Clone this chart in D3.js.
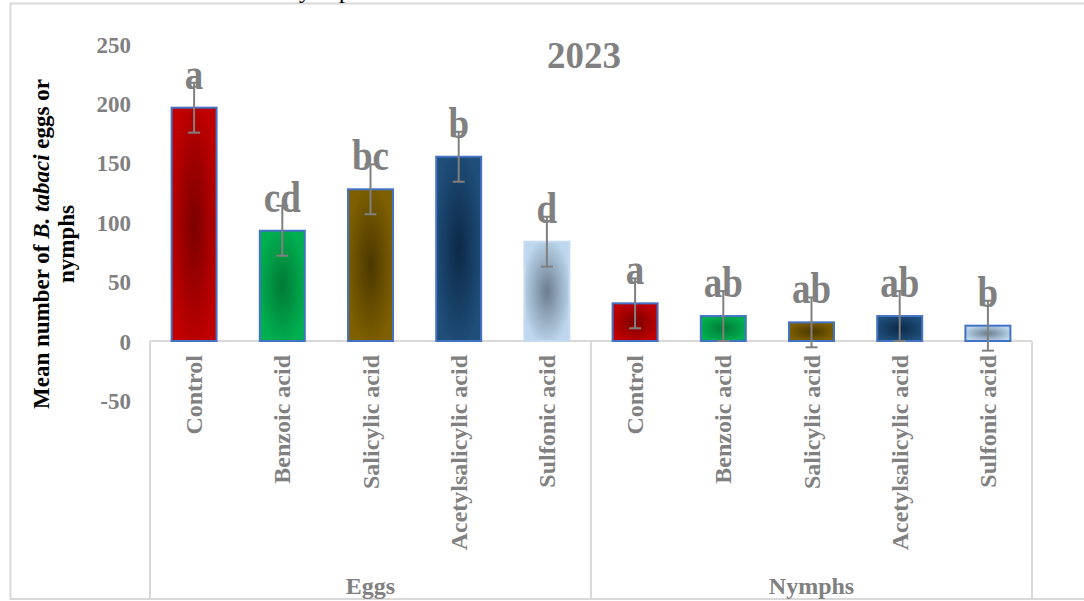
<!DOCTYPE html>
<html>
<head>
<meta charset="utf-8">
<script src="https://cdn.jsdelivr.net/npm/d3@7"></script>
<style>
  body { margin: 0; background: #fff; }
  svg { display: block; font-family: "Liberation Serif", "Times New Roman", serif; }
</style>
</head>
<body>
<div id="chart"></div>
<script>
// data
const groups = ['Eggs', 'Nymphs'];
const treatments = ['Control', 'Benzoic acid', 'Salicylic acid', 'Acetylsalicylic acid', 'Sulfonic acid'];
const eggMeans = [196.4, 92.8, 127.7, 155.1, 83.6];
const eggErrors = [21, 21, 21, 21, 21];
const eggLetters = ['a', 'cd', 'bc', 'b', 'd'];
const nymphMeans = [31.7, 21, 15.7, 21, 12.9];
const nymphErrors = [21, 21, 21, 21, 21];
const nymphLetters = ['a', 'ab', 'ab', 'ab', 'b'];
const yTicks = [-50, 0, 50, 100, 150, 200, 250];

// edge / centre colours of each treatment's radial fill
const fills = [
    ['#c00000', '#7c0000'],
    ['#00b050', '#007a36'],
    ['#7f6000', '#4c3800'],
    ['#1f4e79', '#0c2947'],
    ['#bdd7ee', '#6b7d8e'],
];

const width = 1084, height = 601;
const grey = '#808080', lineGrey = '#d9d9d9';

const data = [];
groups.forEach((g, gi) => {
    const means = gi === 0 ? eggMeans : nymphMeans;
    const errs = gi === 0 ? eggErrors : nymphErrors;
    const letters = gi === 0 ? eggLetters : nymphLetters;
    treatments.forEach((t, ti) => {
        data.push({ key: `${g}|${t}`, group: g, treatment: t, ti, mean: means[ti], err: errs[ti], letter: letters[ti] });
    });
});

const svg = d3.select('#chart').append('svg')
    .attr('width', width).attr('height', height);

const x = d3.scaleBand().domain(data.map((d) => d.key)).range([150, 1032]).padding(0);
const y = d3.scaleLinear().domain([-50, 250]).range([400.4, 44]);
const barW = x.bandwidth() * 0.51;
const mid = (d) => x(d.key) + x.bandwidth() / 2;

// gradients
const defs = svg.append('defs');
fills.forEach(([edge, centre], i) => {
    const rg = defs.append('radialGradient').attr('id', `fill${i}`)
        .attr('cx', '50%').attr('cy', '50%').attr('r', '55%');
    rg.append('stop').attr('offset', '0%').attr('stop-color', centre);
    rg.append('stop').attr('offset', '100%').attr('stop-color', edge);
});

// outer chart border
svg.append('rect')
    .attr('x', 10.5).attr('y', 3.5).attr('width', 1090).attr('height', 595.5)
    .attr('fill', 'none').attr('stroke', lineGrey).attr('stroke-width', 2);

// cut-off caption above the chart (only descenders visible)
svg.append('text').attr('x', 299).attr('y', -2).attr('font-size', 24).attr('fill', '#000').text('y');
svg.append('text').attr('x', 339).attr('y', -2).attr('font-size', 24).attr('fill', '#000').text('p');

// title
svg.append('text').attr('x', 584).attr('y', 68).attr('text-anchor', 'middle')
    .attr('font-size', 37).attr('font-weight', 'bold').attr('fill', grey).text('2023');

// y axis labels
const yAxis = svg.append('g').attr('transform', 'translate(131,0)')
    .call(d3.axisLeft(y).tickValues(yTicks).tickSize(0).tickPadding(0).tickFormat((d) => String(d)));
yAxis.select('.domain').remove();
yAxis.selectAll('text')
    .attr('font-family', '"Liberation Serif", "Times New Roman", serif')
    .attr('font-size', 23).attr('font-weight', 'bold').attr('fill', grey)
    .attr('dy', '0.35em');

// y axis title
const yt = svg.append('text')
    .attr('transform', 'translate(0,244) rotate(-90)')
    .attr('text-anchor', 'middle').attr('font-size', 23).attr('font-weight', 'bold').attr('fill', '#000');
const l1 = yt.append('tspan').attr('x', 0).attr('y', 49);
l1.append('tspan').text('Mean number of ');
l1.append('tspan').attr('font-style', 'italic').text('B. tabaci');
l1.append('tspan').text(' eggs or');
yt.append('tspan').attr('x', 0).attr('y', 74).text('nymphs');

// category axis frame
const y0 = y(0);
const ax = svg.append('g').attr('stroke', lineGrey).attr('stroke-width', 2);
ax.append('line').attr('x1', 150).attr('x2', 1032).attr('y1', y0).attr('y2', y0);
[x(data[0].key), x(data[5].key), x(data[9].key) + x.step()].forEach((xv) => {
    ax.append('line').attr('x1', xv).attr('x2', xv).attr('y1', y0).attr('y2', 599);
});

// bars
svg.append('g').selectAll('rect').data(data).join('rect')
    .attr('x', (d) => x(d.key) + (x.bandwidth() - barW) / 2)
    .attr('y', (d) => y(d.mean))
    .attr('width', barW)
    .attr('height', (d) => y0 - y(d.mean))
    .attr('fill', (d) => `url(#fill${d.ti})`)
    .attr('stroke', (d) => (d.group === 'Eggs' && d.ti === 4 ? '#c6dbf0' : '#4472c4'))
    .attr('stroke-width', 2);

// error bars
const eb = svg.append('g').attr('stroke', grey).attr('stroke-width', 2);
data.forEach((d) => {
    const cx = mid(d);
    eb.append('line').attr('x1', cx).attr('x2', cx)
        .attr('y1', y(d.mean + d.err)).attr('y2', y(d.mean - d.err));
    [d.mean + d.err, d.mean - d.err].forEach((v) => {
        eb.append('line').attr('x1', cx - 6).attr('x2', cx + 6).attr('y1', y(v)).attr('y2', y(v));
    });
});

// significance letters (slightly tall, as in the source)
svg.append('g').selectAll('text').data(data).join('text')
    .attr('transform', (d) => `translate(${mid(d)},${y(d.mean + d.err) + 6}) scale(1,1.2)`)
    .attr('text-anchor', 'middle')
    .attr('font-size', 37).attr('font-weight', 'bold').attr('fill', grey)
    .text((d) => d.letter);

// rotated category labels
svg.append('g').selectAll('text').data(data).join('text')
    .attr('transform', (d) => `translate(${mid(d) + 8},355) rotate(-90)`)
    .attr('text-anchor', 'end')
    .attr('font-size', 24).attr('font-weight', 'bold').attr('fill', grey)
    .text((d) => d.treatment);

// group labels
groups.forEach((g, gi) => {
    const a = x(data[gi * 5].key);
    const b = x(data[gi * 5 + 4].key) + x.step();
    svg.append('text').attr('x', (a + b) / 2).attr('y', 594)
        .attr('text-anchor', 'middle').attr('font-size', 24).attr('font-weight', 'bold').attr('fill', grey)
        .text(g);
});
</script>
</body>
</html>
